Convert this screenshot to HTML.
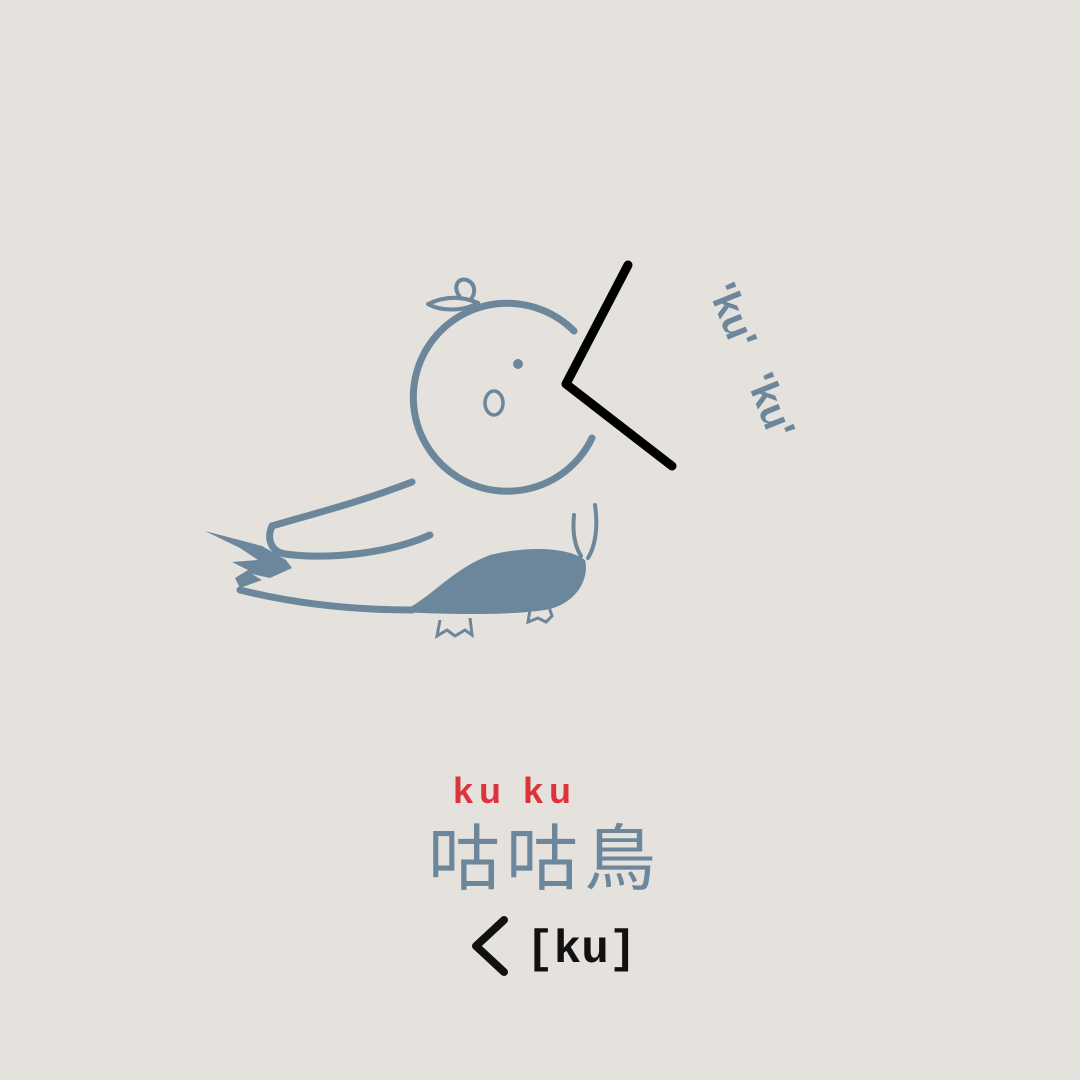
<!DOCTYPE html>
<html><head><meta charset="utf-8"><style>
html,body{margin:0;padding:0;background:#e5e1dd;}
svg{display:block}
</style></head><body>
<svg width="1080" height="1080" viewBox="0 0 1080 1080">
<rect width="1080" height="1080" fill="#e5e1dd"/>
<g fill="none" stroke="#6c879b" stroke-width="7" stroke-linecap="round" stroke-linejoin="round">
  <path d="M574,331 A94,94 0 1 0 592,438"/>
  <path d="M428,304 C445,296 462,296 478,303 C462,312 440,311 428,304 Z M460,297 C452,287 458,277 467,280 C476,284 476,294 470,300" stroke-width="4"/>
  <path d="M412,482 C360,502 320,512 272,526"/>
  <path d="M272,526 C266,540 272,552 285,554 C330,560 390,553 430,535"/>
  <path d="M240,590 C300,605 360,610 412,610"/>
  <path d="M574,515 C572,535 576,548 581,556 M595,505 C598,525 596,545 588,558" stroke-width="4"/>
</g>
<path d="M205,531 L262,546 L286,560 L292,568 L270,578 L252,574 L262,580 L240,588 L235,578 L248,570 L232,562 L258,560 L240,548 Z" fill="#6c879b"/>
<path d="M400,612 C430,600 450,570 490,555 C530,545 570,548 585,560 C590,580 575,605 545,610 C510,615 460,615 400,612 Z" fill="#6c879b"/>
<g fill="none" stroke="#6c879b" stroke-width="3">
  <path d="M440,620 L437,636 L447,630 L455,636 L465,630 L472,635 L470,618"/>
  <path d="M530,610 L528,622 L538,618 L546,622 L552,616 L548,604"/>
</g>
<circle cx="518" cy="364" r="5" fill="#6c879b"/>
<ellipse cx="494" cy="403" rx="9" ry="12" fill="none" stroke="#6c879b" stroke-width="3.5"/>
<path d="M628,265 L566,384 L672,466" fill="none" stroke="#000" stroke-width="9" stroke-linecap="round" stroke-linejoin="round"/>
<text x="0" y="0" transform="translate(708,290) rotate(68)" font-family="Liberation Sans, sans-serif" font-weight="bold" font-size="40" fill="#6c879b">'ku'</text>
<text x="0" y="0" transform="translate(746,380) rotate(68)" font-family="Liberation Sans, sans-serif" font-weight="bold" font-size="40" fill="#6c879b">'ku'</text>
<text x="453" y="803" font-family="Liberation Sans, sans-serif" font-weight="bold" font-size="36" fill="#e0323c" letter-spacing="6">ku ku</text>
<text x="428" y="884" font-family="Liberation Sans, 'Noto Sans CJK TC', sans-serif" font-size="72" fill="#6c879b" letter-spacing="6">咕咕鳥</text>
<path d="M504,920 L476,946 L504,972" fill="none" stroke="#111" stroke-width="8" stroke-linecap="round" stroke-linejoin="round"/>
<text x="526" y="962" font-family="Liberation Mono, monospace" font-weight="bold" font-size="46" fill="#111">[ku]</text>
</svg>
</body></html>
